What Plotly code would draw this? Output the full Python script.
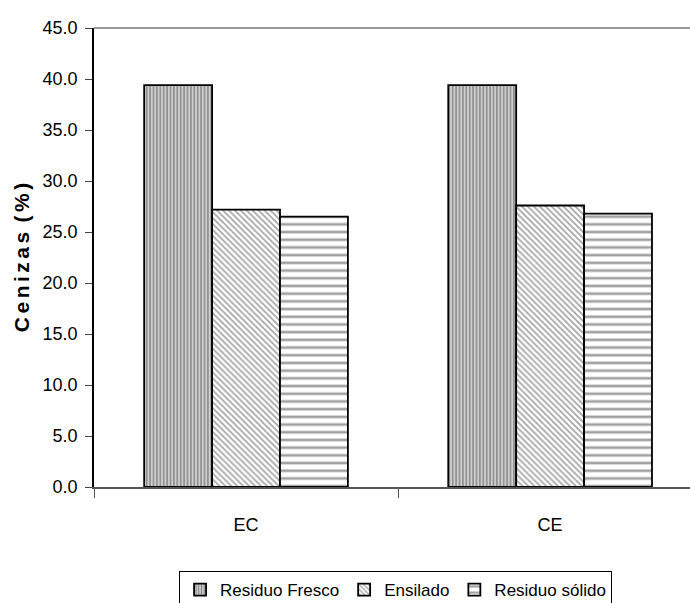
import plotly.graph_objects as go

categories = ["EC", "CE"]
series_names = ["Residuo Fresco", "Ensilado", "Residuo sólido"]
residuo_fresco = [39.4, 39.4]
ensilado = [27.2, 27.6]
residuo_solido = [26.5, 26.8]
y_ticks = [0, 5, 10, 15, 20, 25, 30, 35, 40, 45]

values = [residuo_fresco, ensilado, residuo_solido]
patterns = [
    dict(shape="|", fgcolor="#333333", bgcolor="#cfcfcf", size=3.4, solidity=0.4),
    dict(shape="\\", fgcolor="#4a4a4a", bgcolor="#ffffff", size=4.2, solidity=0.4),
    dict(shape="-", fgcolor="#444444", bgcolor="#ffffff", size=7.7, solidity=0.35),
]

fig = go.Figure()
for name, vals, pat in zip(series_names, values, patterns):
    fig.add_trace(go.Bar(
        x=categories, y=vals, name=name,
        marker=dict(color=pat["bgcolor"], pattern=pat,
                    line=dict(color="black", width=1.8)),
    ))

font = "Liberation Sans, Arial, sans-serif"
sp = "\u2006"
title_text = sp.join("Cenizas") + sp + " " + sp.join("(%)")
fig.update_layout(
    width=690, height=603,
    margin=dict(l=94, r=0, t=28, b=116, autoexpand=False),
    paper_bgcolor="white", plot_bgcolor="white",
    barmode="group", bargap=0.33, bargroupgap=0,
    font=dict(family=font, size=18, color="black"),
    showlegend=True,
    legend=dict(orientation="h", x=0.506, xanchor="center", y=-0.183, yanchor="top",
                bordercolor="black", borderwidth=1, bgcolor="white",
                font=dict(size=17, family=font), itemwidth=30, tracegroupgap=0),
    xaxis=dict(range=[-0.5, 1.46], showline=True, linecolor="#555555", linewidth=1.5,
               ticks="outside", tickson="boundaries", ticklen=9, tickcolor="#555555",
               tickfont=dict(size=18), ticklabelstandoff=21, showgrid=False,
               fixedrange=True),
    yaxis=dict(range=[0, 45], tickvals=y_ticks, tickformat=".1f", showline=True,
               linecolor="black", linewidth=1.5, ticks="outside", ticklen=7,
               tickcolor="#444444", showgrid=False, zeroline=False,
               tickfont=dict(size=18), ticklabelstandoff=4,
               title=dict(text=title_text, font=dict(size=21, family=font, weight="bold"),
                          standoff=7)),
)
fig.add_shape(type="line", xref="paper", yref="paper", x0=0, x1=1, y0=1, y1=1,
              line=dict(color="#999999", width=2))
fig.write_html("out.html")
